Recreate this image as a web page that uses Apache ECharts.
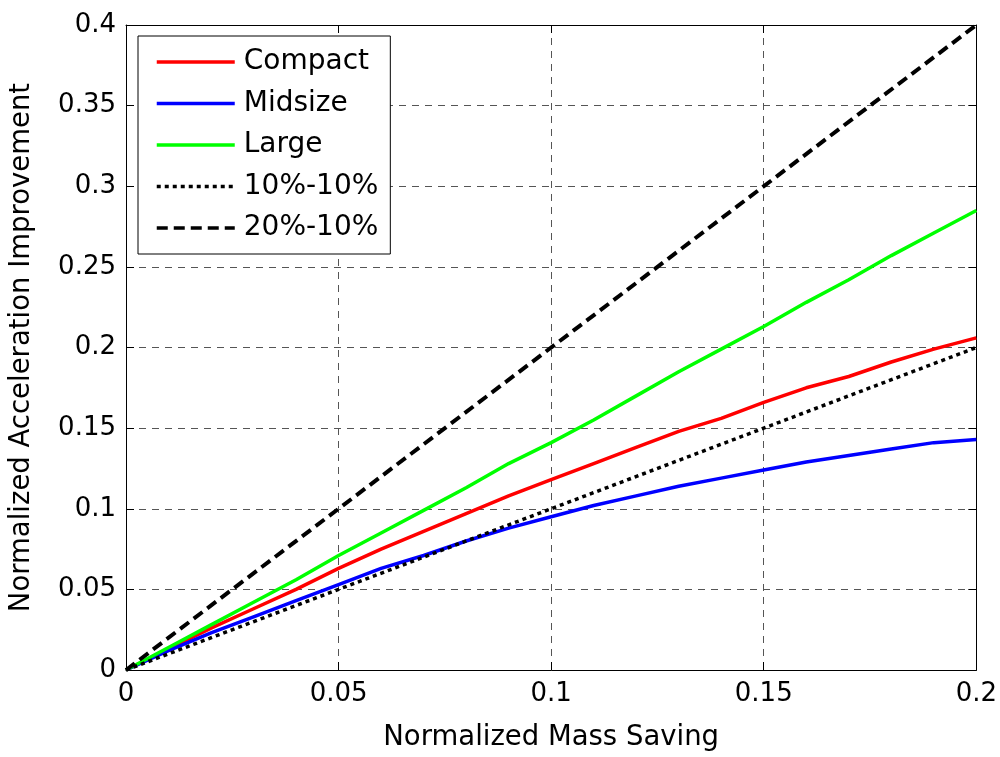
<!DOCTYPE html>
<html>
<head>
<meta charset="utf-8">
<script src="https://cdn.jsdelivr.net/npm/echarts@6/dist/echarts.min.js"></script>
<style>
  html, body { margin: 0; padding: 0; background: #fff; }
  #chart { width: 1000px; height: 757px; }
</style>
</head>
<body>
<div id="chart"></div>
<script>
// mass saving, 0 .. 0.2
var massSaving = [0, 0.01, 0.02, 0.03, 0.04, 0.05, 0.06, 0.07, 0.08, 0.09, 0.10,
                  0.11, 0.12, 0.13, 0.14, 0.15, 0.16, 0.17, 0.18, 0.19, 0.20];
var compact = [0, 0.013, 0.026, 0.038, 0.050, 0.063, 0.075, 0.086, 0.097, 0.108, 0.118,
               0.128, 0.138, 0.148, 0.156, 0.166, 0.175, 0.182, 0.191, 0.199, 0.206];
var midsize = [0, 0.012, 0.023, 0.033, 0.043, 0.053, 0.063, 0.071, 0.080, 0.088, 0.095,
               0.102, 0.108, 0.114, 0.119, 0.124, 0.129, 0.133, 0.137, 0.141, 0.143];
var large = [0, 0.014, 0.028, 0.042, 0.056, 0.071, 0.085, 0.099, 0.113, 0.128, 0.141,
             0.155, 0.170, 0.185, 0.199, 0.213, 0.228, 0.242, 0.257, 0.271, 0.285];
// reference lines
var ref1010x = [0, 0.2], ref1010y = [0, 0.2];
var ref2010x = [0, 0.2], ref2010y = [0, 0.4];

function pairs(xs, ys) {
    return xs.map(function (x, i) { return [x, ys[i]]; });
}

var font = 'DejaVu Sans, sans-serif';
var chart = echarts.init(document.getElementById('chart'));

var axisCommon = {
    type: 'value',
    axisLine: { show: true, onZero: false, lineStyle: { color: '#000', width: 1 } },
    axisTick: { show: true, inside: true, length: 8, lineStyle: { color: '#000' } },
    minorTick: { show: false }
};
var gridLine = { show: true, lineStyle: { color: '#555', width: 1, type: [7, 6] } };
function fmt(v) { return +v.toFixed(2) + ''; }

var option = {
    animation: false,
    backgroundColor: '#fff',
    grid: { left: 125, top: 25, width: 852, height: 648, containLabel: false },
    legend: {
        left: 138, top: 36,
        orient: 'vertical',
        backgroundColor: '#fff',
        borderColor: '#000',
        borderWidth: 1,
        borderRadius: 0,
        padding: [12, 12, 12, 17],
        itemWidth: 78,
        itemHeight: 14,
        itemGap: 13.5,
        itemStyle: { opacity: 0 },
        lineStyle: { width: 3.5 },
        textStyle: { fontFamily: font, fontSize: 28, lineHeight: 28, color: '#000', padding: [0, 0, 0, 4] },
        data: ['Compact', 'Midsize', 'Large', '10%-10%', '20%-10%']
    },
    xAxis: [
        Object.assign({}, axisCommon, {
            min: 0, max: 0.2, interval: 0.05,
            name: 'Normalized Mass Saving',
            nameLocation: 'middle', nameGap: 54,
            nameTextStyle: { fontFamily: font, fontSize: 27.5, color: '#000' },
            axisLabel: { fontFamily: font, fontSize: 26, color: '#000', margin: 11, formatter: fmt },
            splitLine: gridLine
        }),
        Object.assign({}, axisCommon, {
            position: 'top', min: 0, max: 0.2, interval: 0.05,
            axisLabel: { show: false }, splitLine: { show: false }
        })
    ],
    yAxis: [
        Object.assign({}, axisCommon, {
            min: 0, max: 0.4, interval: 0.05,
            name: 'Normalized Acceleration Improvement',
            nameLocation: 'middle', nameGap: 90,
            nameTextStyle: { fontFamily: font, fontSize: 27.5, color: '#000' },
            axisLabel: { fontFamily: font, fontSize: 26, color: '#000', margin: 10, formatter: fmt },
            splitLine: gridLine
        }),
        Object.assign({}, axisCommon, {
            position: 'right', min: 0, max: 0.4, interval: 0.05,
            axisLabel: { show: false }, splitLine: { show: false }
        })
    ],
    series: [
        { name: 'Compact', type: 'line', data: pairs(massSaving, compact),
          symbol: 'none', lineStyle: { color: '#ff0000', width: 3.5 }, itemStyle: { color: '#ff0000' } },
        { name: 'Midsize', type: 'line', data: pairs(massSaving, midsize),
          symbol: 'none', lineStyle: { color: '#0000ff', width: 3.5 }, itemStyle: { color: '#0000ff' } },
        { name: 'Large', type: 'line', data: pairs(massSaving, large),
          symbol: 'none', lineStyle: { color: '#00ff00', width: 3.5 }, itemStyle: { color: '#00ff00' } },
        { name: '10%-10%', type: 'line', data: pairs(ref1010x, ref1010y),
          symbol: 'none', lineStyle: { color: '#000', width: 3.5, type: [4, 4] }, itemStyle: { color: '#000' } },
        { name: '20%-10%', type: 'line', data: pairs(ref2010x, ref2010y),
          symbol: 'none', lineStyle: { color: '#000', width: 4, type: [11, 6] }, itemStyle: { color: '#000' } }
    ]
};
chart.setOption(option);
window.onresize = function () { chart.resize(); };
</script>
</body>
</html>
